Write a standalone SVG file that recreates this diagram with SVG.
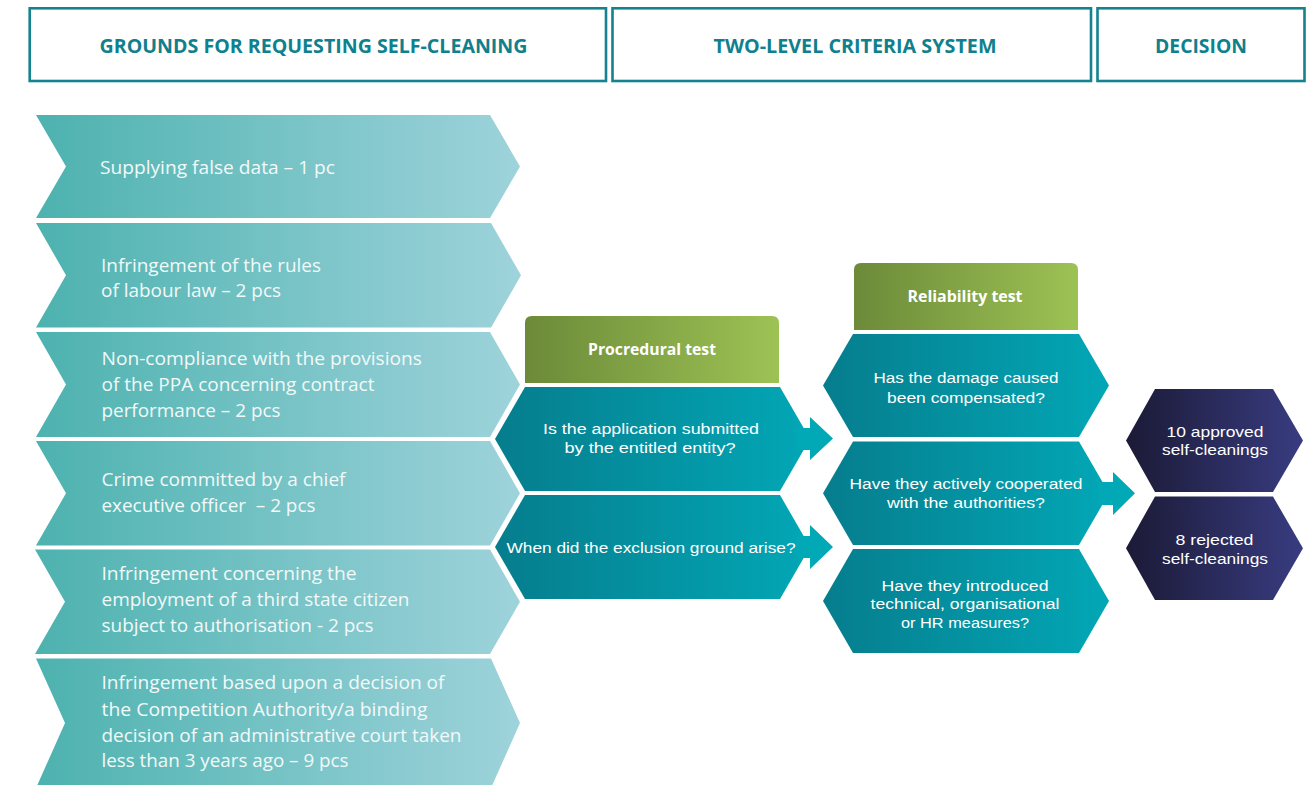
<svg xmlns="http://www.w3.org/2000/svg" width="1313" height="785" viewBox="0 0 1313 785">
<defs>
<linearGradient id="gChev" x1="0" y1="0" x2="1" y2="0">
<stop offset="0" stop-color="#4db2af"/><stop offset="1" stop-color="#9ed3db"/>
</linearGradient>
<linearGradient id="gGreen" x1="0" y1="0" x2="1" y2="0">
<stop offset="0" stop-color="#6c8a39"/><stop offset="1" stop-color="#9dc254"/>
</linearGradient>
<linearGradient id="gTeal" x1="0" y1="0" x2="1" y2="0">
<stop offset="0" stop-color="#067d8d"/><stop offset="1" stop-color="#02a7b6"/>
</linearGradient>
<linearGradient id="gNavy" x1="0" y1="0" x2="1" y2="0">
<stop offset="0" stop-color="#1b1a36"/><stop offset="1" stop-color="#383c80"/>
</linearGradient>
<style>
.hdr{fill:#ffffff;stroke:#12838f;stroke-width:2.6}
.hdrt{font-family:"Open Sans","Liberation Sans",sans-serif;font-weight:bold;font-size:19px;fill:#0f808e;text-anchor:middle}
.chev{fill:url(#gChev)}
.ct{font-family:"Open Sans","Liberation Sans",sans-serif;font-size:18px;fill:#f2f9f9;white-space:pre}
.green{fill:url(#gGreen)}
.gt{font-family:"Open Sans","Liberation Sans",sans-serif;font-weight:bold;font-size:16px;fill:#ffffff;text-anchor:middle}
.hex{fill:url(#gTeal)}
.navy{fill:url(#gNavy)}
.ht{font-family:"Liberation Sans","Open Sans",sans-serif;font-size:15.5px;fill:#ffffff;text-anchor:middle}
.arrow{fill:#01a8b6}
</style>
</defs>

<g id="header-grounds">
<rect class="hdr" x="29.7" y="8.3" width="576.3" height="72.7"/>
<text class="hdrt" x="313.5" y="52.5" textLength="428" lengthAdjust="spacingAndGlyphs">GROUNDS FOR REQUESTING SELF-CLEANING</text>
</g>
<g id="header-criteria">
<rect class="hdr" x="612.5" y="8.3" width="478.5" height="72.7"/>
<text class="hdrt" x="855" y="52.5" textLength="283" lengthAdjust="spacingAndGlyphs">TWO-LEVEL CRITERIA SYSTEM</text>
</g>
<g id="header-decision">
<rect class="hdr" x="1097.5" y="8.3" width="207" height="72.7"/>
<text class="hdrt" x="1201" y="52.5" textLength="92" lengthAdjust="spacingAndGlyphs">DECISION</text>
</g>

<g id="ground-1">
<polygon class="chev" points="36,115 490,115 520,166.5 490,218 36,218 66,166.5"/>
<text class="ct" x="100" y="173.5" textLength="235" lengthAdjust="spacingAndGlyphs">Supplying false data – 1 pc</text>
</g>
<g id="ground-2">
<polygon class="chev" points="36,223 491,223 521,275.3 491,327.5 36,327.5 66,275.3"/>
<text class="ct" x="101" y="271.5" textLength="220" lengthAdjust="spacingAndGlyphs">Infringement of the rules</text>
<text class="ct" x="101" y="296.5" textLength="180" lengthAdjust="spacingAndGlyphs">of labour law – 2 pcs</text>
</g>
<g id="ground-3">
<polygon class="chev" points="36,332 490,332 520,384.5 490,437 36,437 66,384.5"/>
<text class="ct" x="101.5" y="365" textLength="320.5" lengthAdjust="spacingAndGlyphs">Non-compliance with the provisions</text>
<text class="ct" x="101.5" y="391" textLength="273" lengthAdjust="spacingAndGlyphs">of the PPA concerning contract</text>
<text class="ct" x="101.5" y="417" textLength="179" lengthAdjust="spacingAndGlyphs">performance – 2 pcs</text>
</g>
<g id="ground-4">
<polygon class="chev" points="36,441 490,441 520,493.3 490,545.5 36,545.5 66,493.3"/>
<text class="ct" x="101.5" y="485.5" textLength="244" lengthAdjust="spacingAndGlyphs">Crime committed by a chief</text>
<text class="ct" x="101.5" y="511.5" textLength="214" lengthAdjust="spacingAndGlyphs" xml:space="preserve">executive officer  – 2 pcs</text>
</g>
<g id="ground-5">
<polygon class="chev" points="35,549.5 490,549.5 520,601.8 490,654 35,654 65,601.8"/>
<text class="ct" x="101.5" y="580" textLength="255" lengthAdjust="spacingAndGlyphs">Infringement concerning the</text>
<text class="ct" x="101.5" y="606" textLength="308" lengthAdjust="spacingAndGlyphs">employment of a third state citizen</text>
<text class="ct" x="101.5" y="632" textLength="272" lengthAdjust="spacingAndGlyphs">subject to authorisation - 2 pcs</text>
</g>
<g id="ground-6">
<polygon class="chev" points="36,658.5 491,658.5 520,723 491,788 36,788 65,723"/>
<text class="ct" x="101.5" y="689" textLength="343" lengthAdjust="spacingAndGlyphs">Infringement based upon a decision of</text>
<text class="ct" x="101.5" y="715.5" textLength="326" lengthAdjust="spacingAndGlyphs">the Competition Authority/a binding</text>
<text class="ct" x="101.5" y="741.5" textLength="360" lengthAdjust="spacingAndGlyphs">decision of an administrative court taken</text>
<text class="ct" x="101.5" y="767" textLength="247" lengthAdjust="spacingAndGlyphs">less than 3 years ago – 9 pcs</text>
</g>

<g id="procedural-test">
<path class="green" d="M525,383 V323 Q525,316 532,316 H772 Q779,316 779,323 V383 Z"/>
<text class="gt" x="652" y="354.5" textLength="128" lengthAdjust="spacingAndGlyphs">Procredural test</text>
</g>
<g id="procedural-1">
<polygon class="hex" points="495,439 525,387 780,387 810,439 780,491 525,491"/>
<text class="ht" x="651" y="434.3" textLength="216" lengthAdjust="spacingAndGlyphs">Is the application submitted</text>
<text class="ht" x="650" y="453.3" textLength="171" lengthAdjust="spacingAndGlyphs">by the entitled entity?</text>
</g>
<g id="procedural-2">
<polygon class="hex" points="495,547 525,495 780,495 810,547 780,599 525,599"/>
<text class="ht" x="651" y="552.7" textLength="289" lengthAdjust="spacingAndGlyphs">When did the exclusion ground arise?</text>
</g>

<g id="reliability-test">
<path class="green" d="M854,330 V270 Q854,263 861,263 H1071 Q1078,263 1078,270 V330 Z"/>
<text class="gt" x="965" y="302" textLength="115" lengthAdjust="spacingAndGlyphs">Reliability test</text>
</g>
<g id="reliability-1">
<polygon class="hex" points="823,385.5 853,334 1079,334 1109,385.5 1079,437 853,437"/>
<text class="ht" x="966" y="383" textLength="185" lengthAdjust="spacingAndGlyphs">Has the damage caused</text>
<text class="ht" x="966" y="402.7" textLength="158" lengthAdjust="spacingAndGlyphs">been compensated?</text>
</g>
<g id="reliability-2">
<polygon class="hex" points="823,493.3 853,441.5 1079,441.5 1109,493.3 1079,545 853,545"/>
<text class="ht" x="966" y="489" textLength="233" lengthAdjust="spacingAndGlyphs">Have they actively cooperated</text>
<text class="ht" x="966" y="508" textLength="158" lengthAdjust="spacingAndGlyphs">with the authorities?</text>
</g>
<g id="reliability-3">
<polygon class="hex" points="823,601 853,549 1079,549 1109,601 1079,653 853,653"/>
<text class="ht" x="965" y="590.5" textLength="167" lengthAdjust="spacingAndGlyphs">Have they introduced</text>
<text class="ht" x="965" y="609.3" textLength="189" lengthAdjust="spacingAndGlyphs">technical, organisational</text>
<text class="ht" x="965" y="628.1" textLength="128" lengthAdjust="spacingAndGlyphs">or HR measures?</text>
</g>

<g id="decision-approved">
<polygon class="navy" points="1126,440.5 1155,389 1273,389 1303,440.5 1273,492 1155,492"/>
<text class="ht" x="1215" y="436.5" textLength="97" lengthAdjust="spacingAndGlyphs">10 approved</text>
<text class="ht" x="1215" y="455.3" textLength="106" lengthAdjust="spacingAndGlyphs">self-cleanings</text>
</g>
<g id="decision-rejected">
<polygon class="navy" points="1126,548.3 1155,496.5 1273,496.5 1303,548.3 1273,600 1155,600"/>
<text class="ht" x="1214.5" y="544.7" textLength="78" lengthAdjust="spacingAndGlyphs">8 rejected</text>
<text class="ht" x="1215" y="563.5" textLength="106" lengthAdjust="spacingAndGlyphs">self-cleanings</text>
</g>

<g id="connectors">
<polygon class="arrow" points="796,428 810,428 810,417 833,438.5 810,460 810,450 796,450"/>
<polygon class="arrow" points="796,536 810,536 810,525 833,547 810,569 810,558 796,558"/>
<polygon class="arrow" points="1098,482 1113,482 1113,472 1135,493.3 1113,515 1113,505 1098,505"/>
</g>
</svg>
